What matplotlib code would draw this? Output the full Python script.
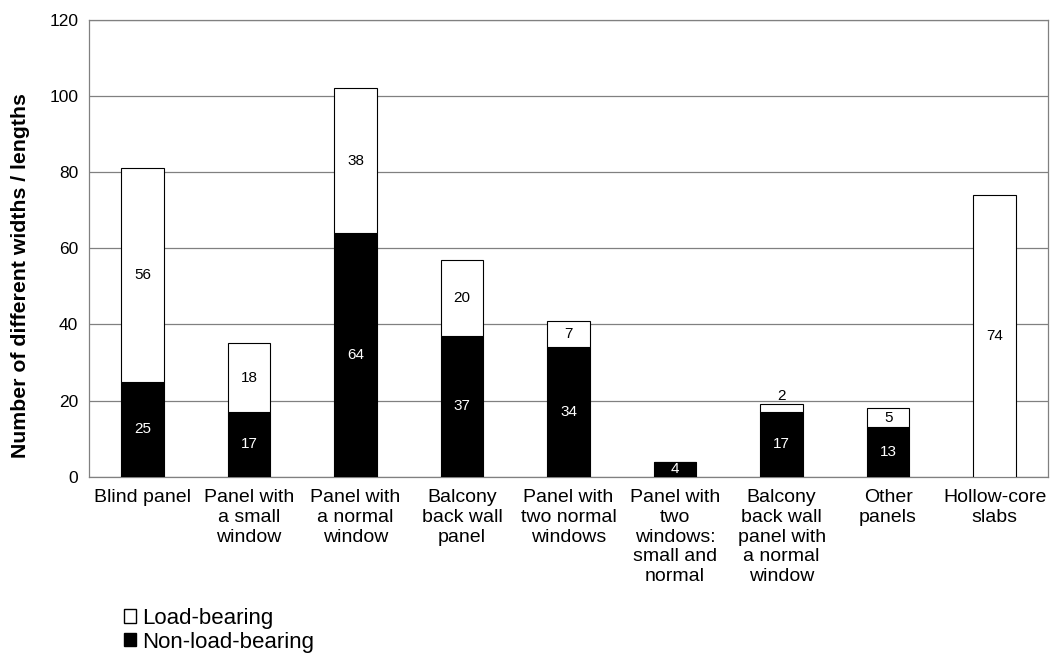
import numpy as np
import matplotlib.pyplot as plt
from matplotlib.patches import Patch

plt.rcParams['font.family'] = ['Liberation Sans', 'DejaVu Sans']

categories = ['Blind panel', 'Panel with\na small\nwindow', 'Panel with\na normal\nwindow',
              'Balcony\nback wall\npanel', 'Panel with\ntwo normal\nwindows',
              'Panel with\ntwo\nwindows:\nsmall and\nnormal',
              'Balcony\nback wall\npanel with\na normal\nwindow', 'Other\npanels', 'Hollow-core\nslabs']
non_load = [25, 17, 64, 37, 34, 4, 17, 13, 0]
load = [56, 18, 38, 20, 7, 0, 2, 5, 74]

x = np.arange(len(categories))
w = 0.4

fig = plt.figure(figsize=(10.5, 6.55), dpi=100)
ax = fig.add_axes([0.085, 0.272, 0.913, 0.698])

ax.bar(x, non_load, w, color='black', edgecolor='black', linewidth=0.8, zorder=3)
ax.bar(x, load, w, bottom=non_load, color='white', edgecolor='black', linewidth=0.8, zorder=3)

# value labels: white inside black segments, black inside white ones
for i in range(len(x)):
    if non_load[i] > 0:
        ax.text(x[i], non_load[i] / 2, str(non_load[i]), ha='center', va='center',
                color='white', fontsize=11, zorder=4)
    if load[i] > 0:
        if load[i] < 4:
            ax.text(x[i], non_load[i] + load[i] + 0.3, str(load[i]), ha='center', va='bottom',
                    color='black', fontsize=11, zorder=4)
        else:
            ax.text(x[i], non_load[i] + load[i] / 2, str(load[i]), ha='center', va='center',
                    color='black', fontsize=11, zorder=4)

ax.set_xlim(-0.5, len(x) - 0.5)
ax.set_ylim(0, 120)
ax.set_yticks(range(0, 121, 20))
ax.yaxis.grid(True, color='#808080', linewidth=0.9, zorder=0)
ax.set_axisbelow(True)
for s in ax.spines.values():
    s.set_color('#808080')
    s.set_linewidth(0.9)
ax.tick_params(axis='both', length=0, labelsize=12.5, pad=8)
ax.set_xticks(x)
ax.set_xticklabels(categories, fontsize=14, va='top', linespacing=1.2)
ax.tick_params(axis='x', pad=9)
ax.set_ylabel('Number of different widths / lengths', fontsize=15.3, fontweight='bold')
ax.yaxis.set_label_coords(-0.062, 0.44)

handles = [Patch(facecolor='white', edgecolor='black', label='Load-bearing'),
           Patch(facecolor='black', edgecolor='black', label='Non-load-bearing')]
fig.legend(handles=handles, loc='upper left', bbox_to_anchor=(0.118, 0.072), frameon=False,
           fontsize=16, handlelength=0.55, handleheight=0.55, handletextpad=0.25,
           labelspacing=0.12, borderaxespad=0, borderpad=0)

fig.savefig('out.png', dpi=100)
